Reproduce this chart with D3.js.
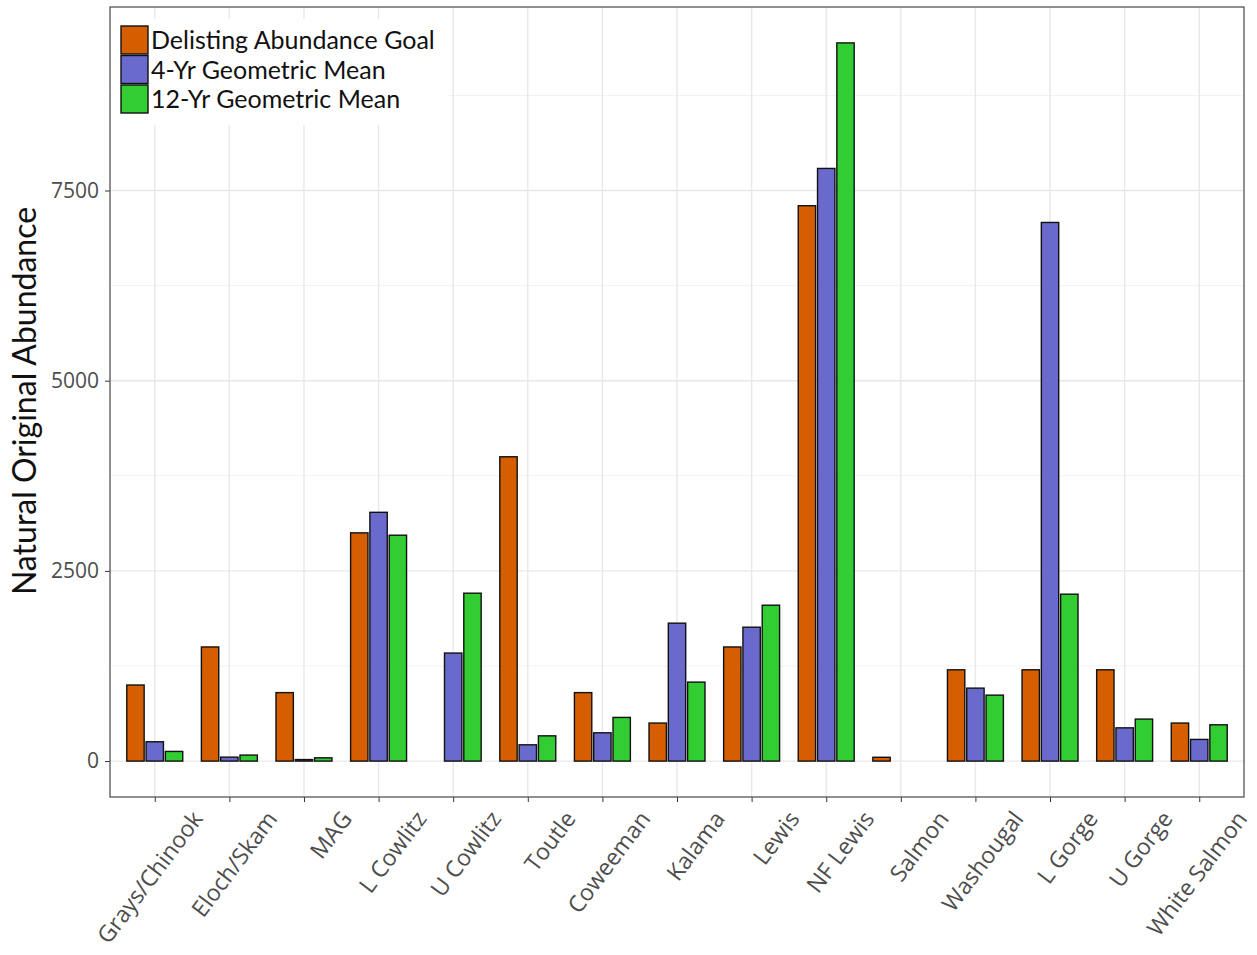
<!DOCTYPE html>
<html>
<head>
<meta charset="utf-8">
<script src="https://cdn.jsdelivr.net/npm/d3@7"></script>
<style>
  body { margin: 0; background: #fff; }
  svg { display: block; }
</style>
</head>
<body>
<svg id="chart" width="1257" height="955"></svg>
<script>
const populations = ["Grays/Chinook", "Eloch/Skam", "MAG", "L Cowlitz", "U Cowlitz", "Toutle",
    "Coweeman", "Kalama", "Lewis", "NF Lewis", "Salmon", "Washougal", "L Gorge", "U Gorge", "White Salmon"];

const seriesNames = ["Delisting Abundance Goal", "4-Yr Geometric Mean", "12-Yr Geometric Mean"];
const seriesColors = ["#d55e00", "#6a6acd", "#32cd32"];

const delistingGoal = [1000, 1500, 900, 3000, 0, 4000, 900, 500, 1500, 7300, 50, 1200, 1200, 1200, 500];
const mean4yr = [254, 52, 20, 3270, 1420, 214, 372, 1813, 1760, 7790, null, 959, 7080, 437, 285];
const mean12yr = [127, 79, 43, 2969, 2207, 332, 574, 1038, 2049, 9440, null, 867, 2194, 552, 477];

const yTicks = [0, 2500, 5000, 7500];
const yMinor = [1250, 3750, 6250, 8750];

const seriesValues = [delistingGoal, mean4yr, mean12yr];

const svg = d3.select("#chart");
const margin = { left: 110, right: 13, top: 7, bottom: 158 };
const width = 1257 - margin.left - margin.right;
const height = 955 - margin.top - margin.bottom;

const g = svg.append("g").attr("transform", `translate(${margin.left},${margin.top})`);

// ggplot-style discrete expansion: 0.6 of a step on both sides
const step = width / (populations.length - 1 + 1.2);
const x = d3.scalePoint()
    .domain(populations)
    .range([0.6 * step, width - 0.6 * step]);

const xSub = d3.scaleBand()
    .domain(seriesNames)
    .range([-0.375 * step, 0.375 * step])
    .paddingInner(0.1);

const maxVal = d3.max(seriesValues.flat());
const y = d3.scaleLinear()
    .domain([-0.05 * maxVal, 1.05 * maxVal])
    .range([height, 0]);

// grid
g.append("g").selectAll("line.minor")
    .data(yMinor)
    .join("line")
    .attr("x1", 0).attr("x2", width)
    .attr("y1", d => y(d)).attr("y2", d => y(d))
    .attr("stroke", "#f2f2f2").attr("stroke-width", 1);

g.append("g").selectAll("line.major")
    .data(yTicks)
    .join("line")
    .attr("x1", 0).attr("x2", width)
    .attr("y1", d => y(d)).attr("y2", d => y(d))
    .attr("stroke", "#e8e8e8").attr("stroke-width", 1.4);

g.append("g").selectAll("line.vx")
    .data(populations)
    .join("line")
    .attr("x1", d => x(d)).attr("x2", d => x(d))
    .attr("y1", 0).attr("y2", height)
    .attr("stroke", "#e8e8e8").attr("stroke-width", 1.4);

// bars
const rows = populations.map((p, i) => ({ pop: p, vals: seriesValues.map(s => s[i]) }));

const groups = g.append("g").selectAll("g")
    .data(rows)
    .join("g")
    .attr("transform", d => `translate(${x(d.pop)},0)`);

groups.selectAll("rect")
    .data(d => d.vals.map((v, k) => ({ key: seriesNames[k], value: v, color: seriesColors[k] }))
        .filter(e => e.value !== null))
    .join("rect")
    .attr("x", d => xSub(d.key))
    .attr("width", xSub.bandwidth())
    .attr("y", d => y(d.value))
    .attr("height", d => Math.max(0, y(0) - y(d.value)))
    .attr("fill", d => d.color)
    .attr("stroke", "#111")
    .attr("stroke-width", 1.4);

// axes
const yAxis = g.append("g")
    .call(d3.axisLeft(y).tickValues(yTicks).tickFormat(d3.format("d")).tickSize(5).tickPadding(6));
yAxis.select(".domain").remove();
yAxis.selectAll("line").attr("stroke", "#333");
yAxis.selectAll("text")
    .attr("fill", "#4d4d4d")
    .style("font-family", "'Open Sans', sans-serif")
    .style("font-size", "21px");

const xAxis = g.append("g")
    .attr("transform", `translate(0,${height})`)
    .call(d3.axisBottom(x).tickSize(5).tickPadding(6));
xAxis.select(".domain").remove();
xAxis.selectAll("line").attr("stroke", "#333");
xAxis.selectAll("text")
    .attr("fill", "#4d4d4d")
    .style("font-family", "'Open Sans', sans-serif")
    .style("font-size", "23px")
    .attr("text-anchor", "end")
    .attr("dy", "0.75em")
    .attr("transform", "translate(26,5) rotate(-53)");

// panel border
g.append("rect")
    .attr("width", width).attr("height", height)
    .attr("fill", "none")
    .attr("stroke", "#555").attr("stroke-width", 1.3);

// y title
svg.append("text")
    .attr("transform", `translate(36,${margin.top + height / 2 - 1}) rotate(-90)`)
    .attr("text-anchor", "middle")
    .style("font-family", "Lato, 'Open Sans', sans-serif")
    .style("font-size", "32px")
    .attr("fill", "#111")
    .text("Natural Original Abundance");

// legend
const legend = g.append("g").attr("transform", "translate(3,12)");
legend.append("rect")
    .attr("x", 0).attr("y", 0).attr("width", 335).attr("height", 106)
    .attr("fill", "#fff");
const item = legend.selectAll("g")
    .data(seriesNames)
    .join("g")
    .attr("transform", (d, i) => `translate(8,${7 + i * 29.5})`);
item.append("rect")
    .attr("width", 27).attr("height", 28)
    .attr("fill", (d, i) => seriesColors[i])
    .attr("stroke", "#111").attr("stroke-width", 1.4);
item.append("text")
    .attr("x", 30).attr("y", 14).attr("dy", "0.36em")
    .style("font-family", "Lato, 'Open Sans', sans-serif")
    .style("font-size", "25px")
    .attr("fill", "#111")
    .text(d => d);
</script>
</body>
</html>
